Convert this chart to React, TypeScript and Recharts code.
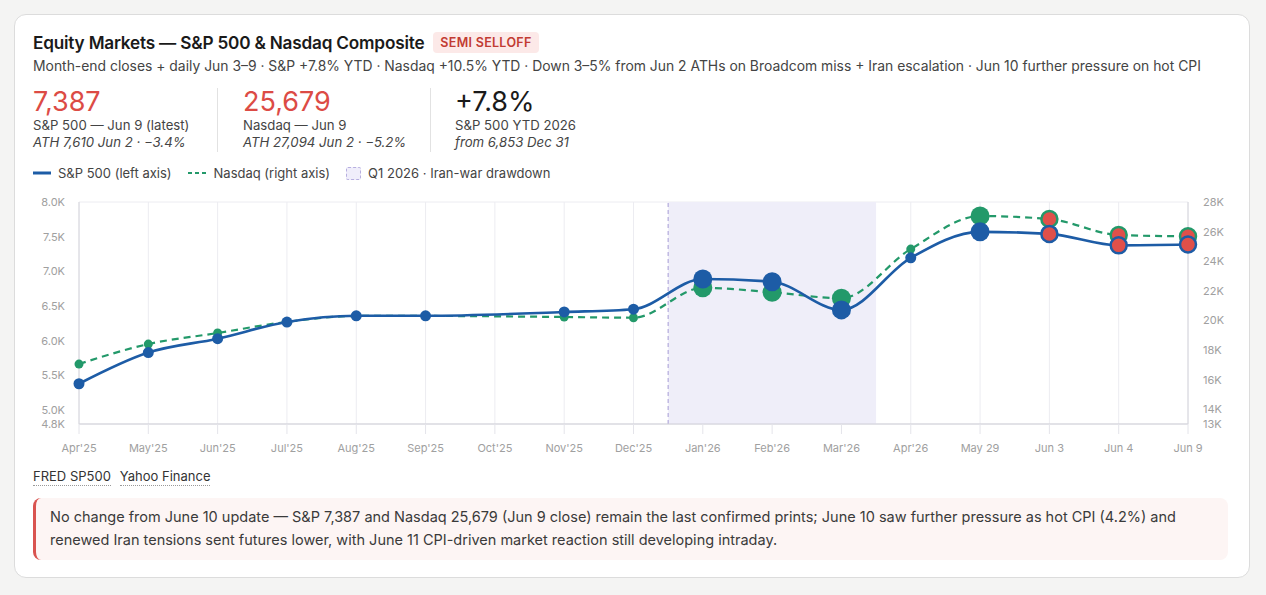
import React from 'react';
import {
  LineChart,
  Line,
  XAxis,
  YAxis,
  CartesianGrid,
  ReferenceArea,
  ReferenceLine,
} from 'recharts';

const categories = [
  "Apr'25", "May'25", "Jun'25", "Jul'25", "Aug'25", "Sep'25", "Oct'25", "Nov'25", "Dec'25",
  "Jan'26", "Feb'26", "Mar'26", "Apr'26", 'May 29', 'Jun 3', 'Jun 4', 'Jun 9',
];
const spx = [5380, 5830, 6030, 6270, 6360, 6360, null, 6415, 6455, 6890, 6850, 6445, 7195, 7570, 7540, 7375, 7387];
const ndx = [17050, 18400, 19150, 19900, 20300, 20300, null, 20230, 20180, 22200, 21900, 21500, 24820, 27050, 26850, 25770, 25679];

const leftTicks = [4800, 5000, 5500, 6000, 6500, 7000, 7500, 8000];
const rightTicks = [13000, 14000, 16000, 18000, 20000, 22000, 24000, 26000, 28000];

// point groups for marker styling
const bigPoints = ["Jan'26", "Feb'26", "Mar'26", 'May 29'];
const latestPoints = ['Jun 3', 'Jun 4', 'Jun 9'];

// shaded Q1 2026 window, between Dec'25|Jan'26 and Mar'26|Apr'26
const q1Start = 8.5;
const q1End = 11.5;

const BLUE = '#1d5ca6';
const GREEN = '#23996a';
const RED = '#e0504a';
const FONT = 'Inter, "Noto Sans", sans-serif';

const data = categories.map((c, i) => ({ idx: i, name: c, spx: spx[i], ndx: ndx[i] }));

const kFmt = (v: number) => (v >= 10000 ? `${Math.round(v / 1000)}K` : `${(v / 1000).toFixed(1)}K`);

function makeDot(color: string, smallR: number) {
  return (props: any) => {
    const { cx, cy, payload, index } = props;
    if (cx == null || cy == null || payload == null) return <g key={index} />;
    const v = color === BLUE ? payload.spx : payload.ndx;
    if (v == null) return <g key={index} />;
    if (latestPoints.includes(payload.name)) {
      return <circle key={index} cx={cx} cy={cy} r={8} fill={RED} stroke={color} strokeWidth={2.5} />;
    }
    const r = bigPoints.includes(payload.name) ? 9.5 : smallR;
    return <circle key={index} cx={cx} cy={cy} r={r} fill={color} stroke="none" />;
  };
}

const stat = (value: string, color: string, l1: string, l2: string) => (
  <div>
    <div style={{ fontSize: 27, color, lineHeight: '30px', fontWeight: 400 }}>{value}</div>
    <div style={{ fontSize: 13.2, color: '#444', lineHeight: '17px' }}>{l1}</div>
    <div style={{ fontSize: 13.2, color: '#444', lineHeight: '17px', fontStyle: 'italic' }}>{l2}</div>
  </div>
);

export default function App() {
  return (
    <div style={{ position: 'absolute', left: 0, top: 0, width: 1266, height: 595, background: '#f4f4f3', fontFamily: FONT }}>
      <div style={{ position: 'absolute', left: 14, top: 14, width: 1234, height: 562, background: '#fff', border: '1px solid #dcdcdc', borderRadius: 12 }} />

      {/* header */}
      <div style={{ position: 'absolute', left: 33, top: 32, display: 'flex', alignItems: 'center' }}>
        <span style={{ fontSize: 17.2, fontWeight: 600, color: '#1a1a1a', letterSpacing: -0.2 }}>
          Equity Markets — S&amp;P 500 &amp; Nasdaq Composite
        </span>
        <span style={{ marginLeft: 9, background: '#fce9e8', color: '#c23b33', fontSize: 12.5, fontWeight: 600, padding: '3px 7px', borderRadius: 4, letterSpacing: 0.3 }}>
          SEMI SELLOFF
        </span>
      </div>
      <div style={{ position: 'absolute', left: 33, top: 58, fontSize: 13.9, color: '#444', whiteSpace: 'nowrap' }}>
        Month-end closes + daily Jun 3–9 · S&amp;P +7.8% YTD · Nasdaq +10.5% YTD · Down 3–5% from Jun 2 ATHs on Broadcom miss + Iran escalation · Jun 10 further pressure on hot CPI
      </div>

      {/* stats */}
      <div style={{ position: 'absolute', left: 33, top: 87 }}>
        {stat('7,387', '#dc4b45', 'S&P 500 — Jun 9 (latest)', 'ATH 7,610 Jun 2 · −3.4%')}
      </div>
      <div style={{ position: 'absolute', left: 217, top: 88, width: 1, height: 64, background: '#e2e2e2' }} />
      <div style={{ position: 'absolute', left: 243, top: 87 }}>
        {stat('25,679', '#dc4b45', 'Nasdaq — Jun 9', 'ATH 27,094 Jun 2 · −5.2%')}
      </div>
      <div style={{ position: 'absolute', left: 430, top: 88, width: 1, height: 64, background: '#e2e2e2' }} />
      <div style={{ position: 'absolute', left: 455, top: 87 }}>
        {stat('+7.8%', '#1a1a1a', 'S&P 500 YTD 2026', 'from 6,853 Dec 31')}
      </div>

      {/* legend */}
      <div style={{ position: 'absolute', left: 33, top: 165, display: 'flex', alignItems: 'center', fontSize: 13, color: '#444' }}>
        <svg width={18} height={10}><line x1={0} y1={5} x2={18} y2={5} stroke={BLUE} strokeWidth={3} /></svg>
        <span style={{ marginLeft: 7 }}>S&amp;P 500 (left axis)</span>
        <svg width={20} height={10} style={{ marginLeft: 16 }}><line x1={0} y1={5} x2={20} y2={5} stroke={GREEN} strokeWidth={1.8} strokeDasharray="4 3" /></svg>
        <span style={{ marginLeft: 6 }}>Nasdaq (right axis)</span>
        <span style={{ marginLeft: 16, width: 13, height: 11, background: '#f0eefb', border: '1px dashed #b7afe0', borderRadius: 2, display: 'inline-block' }} />
        <span style={{ marginLeft: 7 }}>Q1 2026 · Iran-war drawdown</span>
      </div>

      {/* chart */}
      <div style={{ position: 'absolute', left: 0, top: 190 }}>
        <LineChart width={1266} height={270} data={data} margin={{ top: 12, right: 18, bottom: 1, left: 19 }}>
          <CartesianGrid stroke="#ececf1" strokeWidth={1} />
          <ReferenceArea yAxisId="left" x1={q1Start} x2={q1End} y1={4800} y2={8000} fill="#efeef9" fillOpacity={1} stroke="none" />
          <ReferenceLine yAxisId="left" x={q1Start} stroke="#b3aadc" strokeDasharray="4 3" strokeWidth={1.2} />
          <XAxis
            dataKey="idx"
            type="number"
            domain={[0, categories.length - 1]}
            ticks={categories.map((_, i) => i)}
            tickFormatter={(i: number) => categories[i]}
            interval={0}
            stroke="#cfcfd6"
            tick={{ fill: '#a0a0a0', fontSize: 11, fontFamily: FONT }}
            tickLine={{ stroke: '#e4e4ea' }}
            tickSize={10}
            tickMargin={10}
            height={35}
          />
          <YAxis
            yAxisId="left"
            domain={[4800, 8000]}
            ticks={leftTicks}
            tickFormatter={kFmt}
            interval={0}
            width={60}
            stroke="#d6d6dc"
            tick={{ fill: '#a0a0a0', fontSize: 11, fontFamily: FONT }}
            tickLine={false}
            tickSize={0}
            tickMargin={14}
          />
          <YAxis
            yAxisId="right"
            orientation="right"
            domain={[13000, 28000]}
            ticks={rightTicks}
            tickFormatter={kFmt}
            interval={0}
            width={60}
            stroke="#d6d6dc"
            tick={{ fill: '#a0a0a0', fontSize: 11, fontFamily: FONT, textAnchor: 'start' }}
            tickLine={false}
            tickSize={0}
            tickMargin={15}
          />
          <Line
            yAxisId="right"
            type="monotone"
            dataKey="ndx"
            stroke={GREEN}
            strokeWidth={2.2}
            strokeDasharray="7 5"
            connectNulls
            dot={makeDot(GREEN, 4.5)}
            activeDot={false}
            isAnimationActive={false}
          />
          <Line
            yAxisId="left"
            type="monotone"
            dataKey="spx"
            stroke={BLUE}
            strokeWidth={2.6}
            connectNulls
            dot={makeDot(BLUE, 5.5)}
            activeDot={false}
            isAnimationActive={false}
          />
        </LineChart>
      </div>

      {/* sources */}
      <div style={{ position: 'absolute', left: 33, top: 468, fontSize: 13, color: '#333', display: 'flex' }}>
        <span style={{ borderBottom: '1px dotted #999', paddingBottom: 1 }}>FRED SP500</span>
        <span style={{ marginLeft: 9, borderBottom: '1px dotted #999', paddingBottom: 1 }}>Yahoo Finance</span>
      </div>

      {/* note */}
      <div style={{ position: 'absolute', left: 33, top: 498, width: 1195, height: 62, boxSizing: 'border-box', background: '#fdf5f4', borderLeft: '3px solid #d9534f', borderRadius: 8, padding: '7px 14px', fontSize: 14.5, lineHeight: '23px', color: '#3a3a3a' }}>
        No change from June 10 update — S&amp;P 7,387 and Nasdaq 25,679 (Jun 9 close) remain the last confirmed prints; June 10 saw further pressure as hot CPI (4.2%) and renewed Iran tensions sent futures lower, with June 11 CPI-driven market reaction still developing intraday.
      </div>
    </div>
  );
}
